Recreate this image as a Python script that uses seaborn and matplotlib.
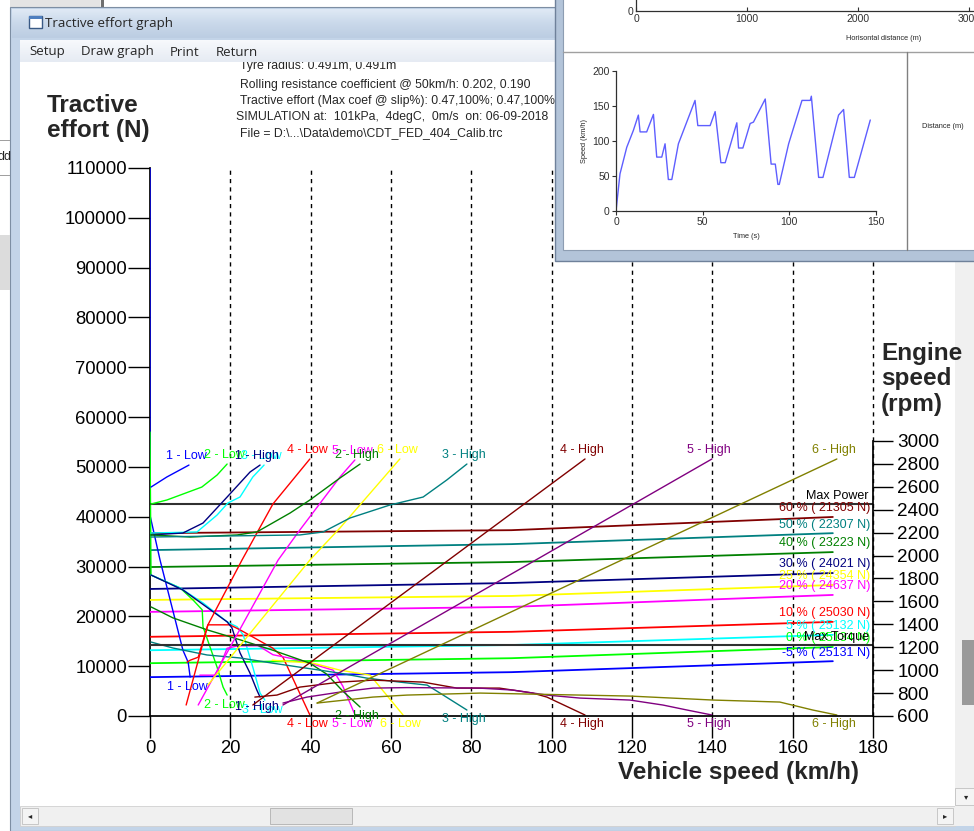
import matplotlib
matplotlib.use("Agg")
import matplotlib.pyplot as plt
import seaborn as sns
import numpy as np
import pandas as pd
from matplotlib.patches import Rectangle

sns.set_theme(style="white")
plt.rcParams['font.family'] = ['Liberation Sans', 'DejaVu Sans']
plt.rcParams['axes.unicode_minus'] = False

# ---------------------------------------------------------------- data
speed_ticks = list(range(0, 181, 20))
te_ticks = list(range(0, 110001, 10000))
rpm_ticks = list(range(600, 3001, 200))

# gradient resistance lines (tractive effort N at 0, 90, 170 km/h)
grad_labels = ["60 % ( 21305 N)", "50 % ( 22307 N)", "40 % ( 23223 N)", "30 % ( 24021 N)",
               "25 % ( 24354 N)", "20 % ( 24637 N)", "10 % ( 25030 N)", "5 % ( 25132 N)",
               "0 % ( 25134 N)", "-5 % ( 25131 N)"]
grad_colors = ["#800000", "#008080", "#008000", "#000080", "#FFFF00",
               "#FF00FF", "#FF0000", "#00FFFF", "#00FF00", "#0000FF"]
grad_speeds = [0, 90, 170]
grad_60 = [36700, 37300, 39950]
grad_50 = [33300, 34500, 36700]
grad_40 = [29900, 30900, 32900]
grad_30 = [25500, 26700, 28700]
grad_25 = [23300, 24100, 26300]
grad_20 = [20900, 21900, 24300]
grad_10 = [15900, 16900, 18900]
grad_5 = [13200, 14250, 16300]
grad_0 = [10600, 11600, 13850]
grad_m5 = [7800, 8800, 11000]

ref_levels = [42500, 14250]
ref_labels = ["Max Power", "Max Torque"]

gear_names = ["1 - Low", "2 - Low", "3 - Low", "4 - Low", "5 - Low", "6 - Low",
              "1 - High", "2 - High", "3 - High", "4 - High", "5 - High", "6 - High"]
gear_colors = ["#0000FF", "#00FF00", "#00FFFF", "#FF0000", "#FF00FF", "#FFFF00",
               "#000080", "#008000", "#008080", "#800000", "#800080", "#808000"]

# engine speed (km/h, rpm)
rpm_low1 = [(0.25, 2598), (4.2, 2686), (9.7, 2790)]
rpm_low2 = [(0.25, 2450), (4.2, 2485), (12.9, 2598), (16.7, 2703), (19.2, 2799)]
rpm_low3 = [(0.25, 2197), (11.7, 2206), (16.7, 2354), (19.4, 2459), (22.4, 2511), (25.6, 2686), (28.4, 2790)]
rpm_low4 = [(9.0, 696), (14.4, 1394), (22.9, 1961), (30.6, 2450), (39.8, 2843)]
rpm_low5 = [(12.0, 696), (31.9, 1961), (37.3, 2223), (47.3, 2686), (51.0, 2834)]
rpm_low6 = [(14.4, 870), (39.8, 1961), (47.3, 2241), (62.2, 2843)]
rpm_high1 = [(0.25, 2180), (8.2, 2197), (13.2, 2284), (19.2, 2511), (24.9, 2729), (27.4, 2790)]
rpm_high2 = [(0.25, 2180), (10.0, 2162), (21.7, 2180), (26.6, 2206), (34.9, 2372), (39.8, 2485), (47.3, 2677), (52.3, 2799)]
rpm_high3 = [(0.25, 2162), (37.3, 2180), (43.1, 2206), (49.8, 2328), (59.7, 2441), (68.0, 2511), (73.9, 2660), (78.9, 2799)]
rpm_high4 = [(25.6, 696), (108.3, 2843)]
rpm_high5 = [(33.1, 696), (139.9, 2843)]
rpm_high6 = [(41.6, 713), (171.0, 2843)]

# tractive effort (km/h, N)
te_low1 = [(0, 112000), (0, 40300), (2.5, 31300), (8.2, 13200), (9.5, 10800), (10.0, 7800)]
te_low2 = [(0, 57000), (0.25, 28300), (7.5, 25700), (10.7, 23300), (13.0, 21300), (13.2, 17900), (16.7, 9800), (18.2, 5800), (19.2, 4200)]
te_low3 = [(0.25, 28300), (7.5, 25700), (13.2, 22700), (19.2, 18900), (21.7, 17900), (23.2, 16300), (25.6, 9800), (27.4, 4600), (28.6, 3200)]
te_low4 = [(9.2, 10800), (10.0, 11200), (12.0, 11800), (14.4, 18300), (19.9, 18300), (22.4, 17300), (30.6, 13600), (33.1, 11800), (39.8, 200)]
te_low5 = [(12.4, 8200), (16.2, 8200), (17.4, 10000), (19.2, 13600), (22.0, 14100), (27.0, 14100), (30.6, 12300), (37.3, 11200), (45.6, 9200), (48.0, 6000), (51.0, 300)]
te_low6 = [(30.4, 11200), (40.6, 10600), (47.3, 9200), (54.8, 8200), (63.0, 200)]
te_high1 = [(0.25, 28300), (8.2, 25300), (19.2, 18900), (20.4, 17700), (22.4, 12700), (24.9, 8600), (26.6, 5200), (27.4, 3800)]
te_high2 = [(0.25, 21900), (5.7, 19700), (14.2, 17300), (22.4, 15300), (30.6, 13200), (39.8, 10600), (44.0, 8400), (48.0, 5000), (52.3, 1800)]
te_high3 = [(0.25, 14850), (5.7, 13650), (14.2, 12250), (22.4, 11650), (30.6, 10600), (47.3, 8600), (54.0, 7600), (62.2, 6800), (69.0, 6200), (72.2, 4600), (78.9, 1200)]
te_high4 = [(26.1, 3800), (31.6, 4200), (37.3, 5800), (47.3, 6800), (55.5, 7200), (68.0, 6800), (76.4, 5600), (87.0, 5600), (95.3, 4600), (98.8, 3800), (108.3, 200)]
te_high5 = [(33.1, 2600), (39.1, 3800), (47.3, 4800), (55.5, 5600), (64.0, 5700), (82.0, 5600), (90.4, 5200), (98.8, 4200), (107.0, 3600), (119.5, 3200), (127.7, 2200), (133.7, 1200), (139.9, 200)]
te_high6 = [(41.6, 2600), (55.5, 3800), (64.0, 4200), (82.2, 4600), (119.5, 4000), (140.2, 3200), (156.8, 2800), (165.0, 1200), (171.0, 200)]

header_lines = ["Tyre radius: 0.491m, 0.491m",
                "Rolling resistance coefficient @ 50km/h: 0.202, 0.190",
                "Tractive effort (Max coef @ slip%): 0.47,100%; 0.47,100%",
                "SIMULATION at:  101kPa,  4degC,  0m/s  on: 06-09-2018",
                "File = D:\\...\\Data\\demo\\CDT_FED_404_Calib.trc"]
menu_items = ["Setup", "Draw graph", "Print", "Return"]

# inset: drive cycle speed trace (s, km/h)
cycle_time = [0, 2.3, 6.2, 10, 12.9, 13.9, 17.7, 21.6, 23.5, 26.4, 28.3, 30.2, 32.2, 36, 45.6,
              47.2, 54.3, 57.2, 60.5, 63, 69.7, 70.7, 73.2, 77.4, 79.3, 86.1, 89.5, 91.9, 93.4,
              94.2, 99.6, 107.3, 112.1, 112.7, 116.9, 119.4, 128.4, 131.3, 134.6, 137.5, 146.7]
cycle_speed = [0, 53, 91, 115, 137, 113, 113, 138, 77, 77, 96, 45, 45, 96, 158,
               122, 122, 142, 69, 69, 126, 90, 90, 125, 127, 160, 67, 67, 38,
               38, 96, 158, 158, 164, 48, 48, 137, 145, 48, 48, 130]
dist_ticks = [0, 1000, 2000, 3000]

# ---------------------------------------------------------------- figure
W, H = 974, 831
fig = plt.figure(figsize=(W / 100, H / 100), dpi=100)
fig.patch.set_facecolor("#f0f0f0")


def fpos(x0, y0, x1, y1):
    return [x0 / W, 1 - y1 / H, (x1 - x0) / W, (y1 - y0) / H]


# background chrome (pixel coordinates)
bg = fig.add_axes([0, 0, 1, 1], zorder=0)
bg.set_xlim(0, W)
bg.set_ylim(H, 0)
bg.axis("off")
R = lambda a, x, y, w, h, c, z=1, **k: a.add_patch(Rectangle((x, y), w, h, facecolor=c, edgecolor=k.get("ec", "none"), lw=k.get("lw", 0), zorder=z))

R(bg, 0, 0, W, H, "#f0f0f0", 0)
R(bg, 0, 0, 100, 8, "#e4e4e4")
R(bg, 101, 0, 3, 8, "#707070")
R(bg, 104, 0, 460, 7, "#ffffff")
R(bg, 0, 0, 10, H, "#ffffff")
R(bg, 0, 140, 10, 1, "#a0a0a0", 2)
R(bg, 0, 175, 10, 1, "#a0a0a0", 2)
R(bg, 0, 235, 10, 55, "#dcdcdc", 2)
bg.text(-3, 157, "dd", fontsize=9, va="center", ha="left", zorder=3)
# main window frame
R(bg, 10, 7, W - 10, H - 7, "#c3d4e8", 1, ec="#7d8ea3", lw=0.8)
grad = np.linspace(0, 1, 30).reshape(-1, 1)
bg.imshow(grad, extent=(12, W, 38, 9), cmap=matplotlib.colors.LinearSegmentedColormap.from_list(
    "tb", ["#dfe9f5", "#c9d8ea", "#bccde2"]), aspect="auto", zorder=2)
R(bg, 29, 16, 13, 12, "#ffffff", 3, ec="#3a5a85", lw=1)
R(bg, 29, 16, 13, 3, "#4f7fbf", 3)
bg.text(45, 23, "Tractive effort graph", fontsize=9.6, va="center", ha="left",
        family=["Open Sans", "DejaVu Sans"], zorder=3)
R(bg, 20, 62, 935, 745, "#ffffff", 2)
# scroll bars
R(bg, 20, 806, 935, 20, "#f0f0f0", 3, ec="#d0d0d0", lw=0.6)
R(bg, 22, 808, 16, 16, "#f4f4f4", 4, ec="#c0c0c0", lw=0.6)
R(bg, 270, 808, 82, 16, "#e2e2e2", 4, ec="#b0b0b0", lw=0.6)
R(bg, 937, 808, 16, 16, "#f4f4f4", 4, ec="#c0c0c0", lw=0.6)
bg.text(30, 816, "\u25c2", fontsize=6, ha="center", va="center", zorder=5, family="DejaVu Sans")
bg.text(945, 816, "\u25b8", fontsize=6, ha="center", va="center", zorder=5, family="DejaVu Sans")
R(bg, 955, 62, 19, 764, "#f0f0f0", 3)
R(bg, 962, 640, 12, 65, "#9a9a9a", 4)
R(bg, 955, 788, 19, 17, "#f4f4f4", 4, ec="#c0c0c0", lw=0.6)
bg.text(966, 797, "\u25be", fontsize=6, ha="center", va="center", zorder=5, family="DejaVu Sans")

header_y = [69, 88, 104, 120, 136]
header_x = [240, 240, 240, 236, 240]
for t, x, y in zip(header_lines, header_x, header_y):
    bg.text(x, y, t, fontsize=8.8, ha="left", va="baseline", zorder=5)

bg.text(47, 118, "Tractive\neffort (N)", fontsize=17.5, weight="bold", ha="left",
        va="center", linespacing=1.15, zorder=5)
bg.text(881, 379, "Engine\nspeed\n(rpm)", fontsize=17.5, weight="bold", ha="left",
        va="center", linespacing=1.15, zorder=5)
bg.text(738, 772, "Vehicle speed (km/h)", fontsize=17.5, weight="bold", ha="center",
        va="center", zorder=5)

# ---------------------------------------------------------------- main chart
ax = fig.add_axes(fpos(150, 168, 873, 716), zorder=2)
ax.set_facecolor("none")
ax2 = ax.twinx()
ax2.set_zorder(3)
ax2.set_facecolor("none")


def draw(axis, pts, color, lw=1.0):
    d = pd.DataFrame(pts, columns=["kmh", "val"])
    sns.lineplot(data=d, x="kmh", y="val", ax=axis, color=color, lw=lw,
                 estimator=None, sort=False, legend=False)


ax.grid(False)
for x in speed_ticks[1:]:
    ax.axvline(x, color="black", lw=1, ls=(0, (3, 3)), zorder=0.5, clip_on=False)

grad_all = [grad_60, grad_50, grad_40, grad_30, grad_25, grad_20, grad_10, grad_5, grad_0, grad_m5]
for vals, col in zip(grad_all, grad_colors):
    draw(ax, list(zip(grad_speeds, vals)), col, lw=1.3)
for vals, lab, col in zip(grad_all, grad_labels, grad_colors):
    ax.annotate(lab, xy=(179.3, vals[-1]), xytext=(0, 6.2), textcoords="offset points",
                ha="right", va="center", color=col, fontsize=9, zorder=6)

for lvl, lab in zip(ref_levels, ref_labels):
    ax.axhline(lvl, color="#303030", lw=1.5, zorder=4)
    ax.annotate(lab, xy=(179.0, lvl), xytext=(0, 6), textcoords="offset points",
                ha="right", va="center", color="black", fontsize=9, zorder=7)

te_all = [te_low1, te_low2, te_low3, te_low4, te_low5, te_low6,
          te_high1, te_high2, te_high3, te_high4, te_high5, te_high6]
rpm_all = [rpm_low1, rpm_low2, rpm_low3, rpm_low4, rpm_low5, rpm_low6,
           rpm_high1, rpm_high2, rpm_high3, rpm_high4, rpm_high5, rpm_high6]

for pts, name, col in zip(te_all, gear_names, gear_colors):
    draw(ax, pts, col, lw=1.0)
    ax.annotate(name, xy=pts[-1], xytext=(-2, -6.8), textcoords="offset points",
                ha="center", va="center", color=col, fontsize=9, annotation_clip=False)
for pts, name, col in zip(rpm_all, gear_names, gear_colors):
    draw(ax2, pts, col, lw=1.0)
    ax2.annotate(name, xy=pts[-1], xytext=(-2, 6.8), textcoords="offset points",
                 ha="center", va="center", color=col, fontsize=9, annotation_clip=False)

ax.set_xlim(0, 180)
ax.set_ylim(0, 110000)
ax2.set_ylim(600, 600 + 548 * 8.727)
ax.set_xlabel("")
ax.set_ylabel("")
ax2.set_ylabel("")
ax.set_xticks(speed_ticks)
ax.set_xticklabels([str(v) for v in speed_ticks])
ax.set_yticks(te_ticks)
ax.set_yticklabels([str(v) for v in te_ticks])
ax2.set_yticks(rpm_ticks)
ax2.set_yticklabels([str(v) for v in rpm_ticks])
ax.tick_params(axis="x", bottom=True, direction="out", length=15.5, width=1, pad=1.5,
               labelsize=13.3, colors="black")
ax.tick_params(axis="y", left=True, direction="out", length=15.8, width=1, pad=0.8,
               labelsize=13.3, colors="black")
ax2.tick_params(axis="y", right=True, direction="out", length=14.4, width=1, pad=3,
                labelsize=13.6, colors="black")
for a in (ax, ax2):
    for s in a.spines.values():
        s.set_visible(False)
ax.spines["left"].set_visible(True)
ax.spines["bottom"].set_visible(True)
ax.spines["left"].set_color("black")
ax.spines["bottom"].set_color("black")
ax.spines["left"].set_zorder(0.6)
ax2.spines["right"].set_visible(True)
ax2.spines["right"].set_color("black")
ax2.spines["right"].set_bounds(600, 3000)

# ---------------------------------------------------------------- overlay chrome
ov = fig.add_axes([0, 0, 1, 1], zorder=10)
ov.set_xlim(0, W)
ov.set_ylim(H, 0)
ov.axis("off")
ov.patch.set_alpha(0)
mg = np.linspace(0, 1, 20).reshape(-1, 1)
ov.imshow(mg, extent=(20, 560, 62, 40), cmap=matplotlib.colors.LinearSegmentedColormap.from_list(
    "mb", ["#f7f9fc", "#e6ebf3"]), aspect="auto", zorder=1)
menu_x = [29, 81, 170, 216]
for t, x in zip(menu_items, menu_x):
    ov.text(x, 52, t, fontsize=9.5, ha="left", va="center",
            family=["Open Sans", "DejaVu Sans"], zorder=2)
# inset window
R(ov, 555, -2, W - 555 + 2, 263, "#b3c4d9", 3, ec="#6f819a", lw=1)
R(ov, 563, -2, W - 563 + 2, 252, "#ffffff", 4, ec="#8d9db2", lw=0.8)
ov.plot([563, W], [52, 52], color="#a0a0a0", lw=1, zorder=5)
ov.plot([907, 907], [52, 250], color="#808080", lw=1, zorder=5)
ov.text(884, 39, "Horisontal distance (m)", fontsize=5.3, ha="center", va="center", zorder=6)
ov.text(943, 127, "Distance (m)", fontsize=5.3, ha="center", va="center", zorder=6)

# inset distance axis (top, only its x axis is visible)
axd = fig.add_axes(fpos(636, -30, W, 11), zorder=11)
axd.set_facecolor("none")
axd.set_xlim(0, (W - 636) / 111 * 1000)
axd.set_ylim(0, 1)
axd.set_xticks(dist_ticks)
axd.set_xticklabels([str(v) for v in dist_ticks])
axd.set_yticks([0])
axd.set_yticklabels(["0"])
axd.tick_params(axis="x", bottom=True, direction="in", length=3, width=0.8, pad=2,
                labelsize=7.5, colors="#303030")
axd.tick_params(axis="y", left=True, direction="out", length=0, pad=2, labelsize=7.5, colors="#303030")
for s in ["top", "right"]:
    axd.spines[s].set_visible(False)
for s in ["left", "bottom"]:
    axd.spines[s].set_color("#303030")
    axd.spines[s].set_linewidth(0.9)

# inset speed trace
axs = fig.add_axes(fpos(616, 71, 876, 211), zorder=11)
axs.set_facecolor("none")
sns.lineplot(x=cycle_time, y=cycle_speed, ax=axs, color="#5e5eff", lw=1.0,
             estimator=None, sort=False)
axs.set_xlim(0, 150)
axs.set_ylim(0, 200)
axs.set_xticks([0, 50, 100, 150])
axs.set_yticks([0, 50, 100, 150, 200])
axs.tick_params(axis="both", bottom=True, left=True, direction="out", length=3, width=0.8,
                pad=1.5, labelsize=7.5, colors="#303030")
axs.set_xlabel("Time (s)", fontsize=5.3, labelpad=4)
axs.set_ylabel("Speed (km/h)", fontsize=5.3, labelpad=3)
for s in ["top", "right"]:
    axs.spines[s].set_visible(False)
for s in ["left", "bottom"]:
    axs.spines[s].set_color("#303030")
    axs.spines[s].set_linewidth(0.9)

fig.savefig("out.png", dpi=100)
